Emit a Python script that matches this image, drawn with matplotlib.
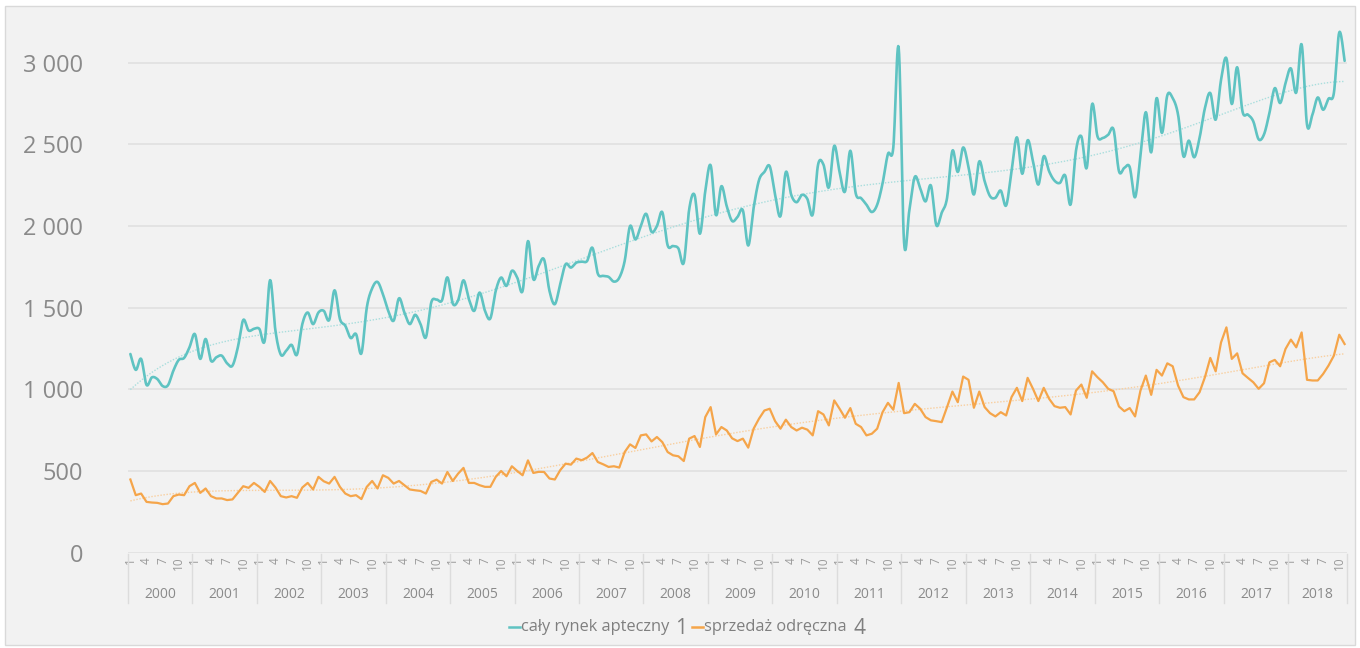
import numpy as np
import matplotlib
matplotlib.use("Agg")
import matplotlib.pyplot as plt
from matplotlib.patches import Rectangle
from matplotlib.lines import Line2D
from matplotlib import transforms

plt.rcParams['font.family'] = ['Open Sans', 'DejaVu Sans']

## data (monthly, 2000-01 .. 2018-11) ##
years = list(range(2000, 2019))
months_in_year = [12] * 18 + [11]
month_ticks = [1, 4, 7, 10]

caly_rynek = [
    1216, 1119, 1186, 1027, 1073, 1063, 1020, 1025, 1114, 1180, 1192, 1257,
    1338, 1186, 1308, 1175, 1196, 1206, 1159, 1145, 1257, 1424, 1360, 1370,
    1370, 1297, 1668, 1358, 1212, 1236, 1272, 1212, 1399, 1470, 1399, 1470,
    1480, 1424, 1606, 1430, 1389, 1314, 1338, 1220, 1500, 1618, 1657, 1582,
    1480, 1420, 1557, 1470, 1399, 1456, 1399, 1318, 1531, 1549, 1545, 1685,
    1525, 1545, 1667, 1552, 1480, 1592, 1480, 1434, 1602, 1684, 1633, 1725,
    1684, 1602, 1907, 1674, 1755, 1794, 1603, 1521, 1643, 1765, 1745, 1775,
    1781, 1785, 1866, 1708, 1694, 1688, 1659, 1683, 1785, 1999, 1917, 1999,
    2074, 1964, 1999, 2084, 1881, 1877, 1862, 1775, 2100, 2190, 1952, 2212,
    2371, 2066, 2243, 2120, 2030, 2055, 2095, 1880, 2110, 2280, 2330, 2365,
    2190, 2060, 2330, 2190, 2145, 2190, 2165, 2070, 2375, 2375, 2235, 2490,
    2330, 2210, 2460, 2200, 2170, 2130, 2085, 2130, 2260, 2440, 2480, 3090,
    1900, 2100, 2300, 2230, 2150, 2247, 2005, 2080, 2170, 2460, 2330, 2480,
    2360, 2192, 2395, 2273, 2182, 2172, 2216, 2125, 2334, 2542, 2319, 2524,
    2395, 2253, 2426, 2334, 2277, 2263, 2308, 2131, 2460, 2548, 2355, 2745,
    2548, 2538, 2558, 2589, 2335, 2355, 2360, 2175, 2430, 2696, 2450, 2782,
    2569, 2799, 2782, 2681, 2426, 2522, 2420, 2538, 2721, 2813, 2650, 2894,
    3026, 2746, 2971, 2700, 2681, 2640, 2530, 2560, 2690, 2843, 2752, 2873,
    2964, 2816, 3111, 2620, 2680, 2786, 2711, 2778, 2813, 3184, 3010,
]

sprzedaz_odreczna = [
    448, 352, 362, 311, 307, 305, 297, 301, 346, 356, 352, 407,
    427, 366, 393, 346, 332, 332, 322, 326, 366, 407, 397, 427,
    403, 372, 439, 399, 346, 338, 346, 336, 399, 427, 387, 464,
    437, 423, 464, 403, 362, 346, 352, 328, 403, 439, 393, 474,
    458, 423, 439, 413, 387, 382, 378, 362, 433, 447, 423, 494,
    439, 484, 519, 427, 427, 413, 403, 403, 464, 500, 468, 529,
    500, 474, 565, 488, 495, 494, 454, 448, 505, 545, 539, 576,
    566, 582, 610, 555, 541, 525, 529, 521, 616, 663, 641, 718,
    724, 681, 708, 677, 616, 596, 590, 561, 698, 714, 647, 830,
    891, 724, 769, 748, 700, 683, 698, 643, 759, 820, 870, 881,
    805, 759, 814, 769, 748, 765, 753, 718, 866, 846, 779, 932,
    881, 826, 885, 789, 769, 718, 728, 759, 860, 917, 875, 1039,
    854, 860, 911, 881, 830, 810, 805, 799, 891, 986, 921, 1078,
    1058, 887, 986, 891, 854, 834, 860, 840, 952, 1009, 928, 1070,
    1003, 928, 1009, 942, 897, 887, 891, 846, 992, 1029, 948, 1110,
    1074, 1043, 1003, 988, 895, 866, 885, 834, 992, 1084, 966, 1119,
    1084, 1159, 1141, 1023, 952, 938, 938, 982, 1074, 1192, 1110, 1287,
    1379, 1186, 1220, 1098, 1070, 1043, 1003, 1037, 1165, 1180, 1141, 1247,
    1304, 1257, 1348, 1058, 1054, 1054, 1094, 1145, 1206, 1334, 1277,
]

series_names = ['cały rynek apteczny', 'sprzedaż odręczna']
series_marks = ['1', '4']
colors = ['#5fc3c2', '#f5a54a']
trend_colors = ['#a9dedd', '#f9cf9f']
W, H = 1360, 648


#Excel style smoothed line: cubic bezier through every point
def smooth_line(values, steps=12):
    y = np.asarray(values, dtype=float)
    x = np.arange(len(y), dtype=float)
    pts = np.column_stack([x, y])
    n = len(pts)
    t = np.linspace(0, 1, steps, endpoint=False)[:, None]
    out = []
    for i in range(n - 1):
        p0, p3 = pts[i], pts[i + 1]
        pm = pts[max(i - 1, 0)]
        pn = pts[min(i + 2, n - 1)]
        c1 = p0 + (p3 - pm) / 6.0
        c2 = p3 - (pn - p0) / 6.0
        seg = ((1 - t) ** 3) * p0 + 3 * ((1 - t) ** 2) * t * c1 + 3 * (1 - t) * t ** 2 * c2 + t ** 3 * p3
        out.append(seg)
    out.append(pts[-1:])
    out = np.vstack(out)
    return out[:, 0], out[:, 1]


def trend(values, order=6):
    x = np.arange(1, len(values) + 1)
    p = np.polynomial.Polynomial.fit(x, values, order)
    return np.arange(len(values)), p(x)


fig = plt.figure(figsize=(W / 100, H / 100), dpi=100)
fig.patch.set_facecolor('white')
fig.patches.append(Rectangle((5 / W, 3 / H), 1350 / W, 639 / H, transform=fig.transFigure,
                             facecolor='#f2f2f2', edgecolor='#d9d9d9', linewidth=1.0, zorder=-10))

## axes placed on the plot area of the reference ##
left, right = 127.7, 1347.3
y0, ytop = 552.7, 10
ax = fig.add_axes([left / W, (H - y0) / H, (right - left) / W, (y0 - ytop) / H])
ax.set_facecolor('none')
ymax = (y0 - ytop) * 500 / 81.7
n = len(caly_rynek)
ax.set_xlim(-0.5, n - 0.5)
ax.set_ylim(0, ymax)
for s in ax.spines.values():
    s.set_visible(False)

ax.set_yticks(range(0, 3001, 500))
ax.set_yticklabels([f'{v:,}'.replace(',', ' ') for v in range(0, 3001, 500)])
ax.yaxis.grid(True, color='#e1e1e1', linewidth=1.2)
ax.set_axisbelow(True)
ax.tick_params(axis='y', length=0, pad=32, labelsize=17, labelcolor='#8a8a8a')

# month ticks 1,4,7,10 of every year
month_idx = []
month_lab = []
pos = 0
for cnt in months_in_year:
    for m in range(1, cnt + 1):
        if m in month_ticks:
            month_idx.append(pos)
            month_lab.append(str(m))
        pos += 1
ax.set_xticks(month_idx)
ax.set_xticklabels(month_lab, rotation=90)
ax.tick_params(axis='x', length=0, pad=3, labelsize=8.5, labelcolor='#9a9a9a')

## year labels and separators under the axis ##
trans = transforms.blended_transform_factory(ax.transData, fig.transFigure)
start = 0
bounds = [-0.5]
for yr, cnt in zip(years, months_in_year):
    ax.text(start + (cnt - 1) / 2, (H - 595) / H, str(yr), transform=trans,
            ha='center', va='center', fontsize=10, color='#8a8a8a')
    start += cnt
    bounds.append(start - 0.5)
for b in bounds:
    fig.add_artist(Line2D([b, b], [(H - 554) / H, (H - 603) / H], transform=trans,
                          color='#dcdcdc', linewidth=1.0))

## series ##
xs, ys = smooth_line(caly_rynek)
ax.plot(xs, ys, color=colors[0], linewidth=1.9, solid_capstyle='round', zorder=3)
ax.plot(np.arange(n), sprzedaz_odreczna, color=colors[1], linewidth=1.6, zorder=3)

for vals, c in zip([caly_rynek, sprzedaz_odreczna], trend_colors):
    tx, ty = trend(vals)
    ax.plot(tx, ty, color=c, linewidth=1.0, linestyle=(0, (1, 1.2)), zorder=2)

## legend built by hand (handle, name, big number), laid out left to right ##
renderer = fig.canvas.get_renderer()
ly = H - 627
x = 509.0
for k in range(2):
    fig.add_artist(Line2D([x / W, (x + 11) / W], [ly / H] * 2,
                          transform=fig.transFigure, color=colors[k], linewidth=1.8))
    x += 12
    t1 = fig.text(x / W, ly / H, series_names[k], ha='left', va='center',
                  fontsize=11.8, color='#7f7f7f')
    x += t1.get_window_extent(renderer).width + 6
    t2 = fig.text(x / W, (ly - 2) / H, series_marks[k], ha='left', va='center',
                  fontsize=15, color='#7f7f7f')
    x += t2.get_window_extent(renderer).width + 5

fig.savefig('out.png', dpi=100, facecolor=fig.get_facecolor())
